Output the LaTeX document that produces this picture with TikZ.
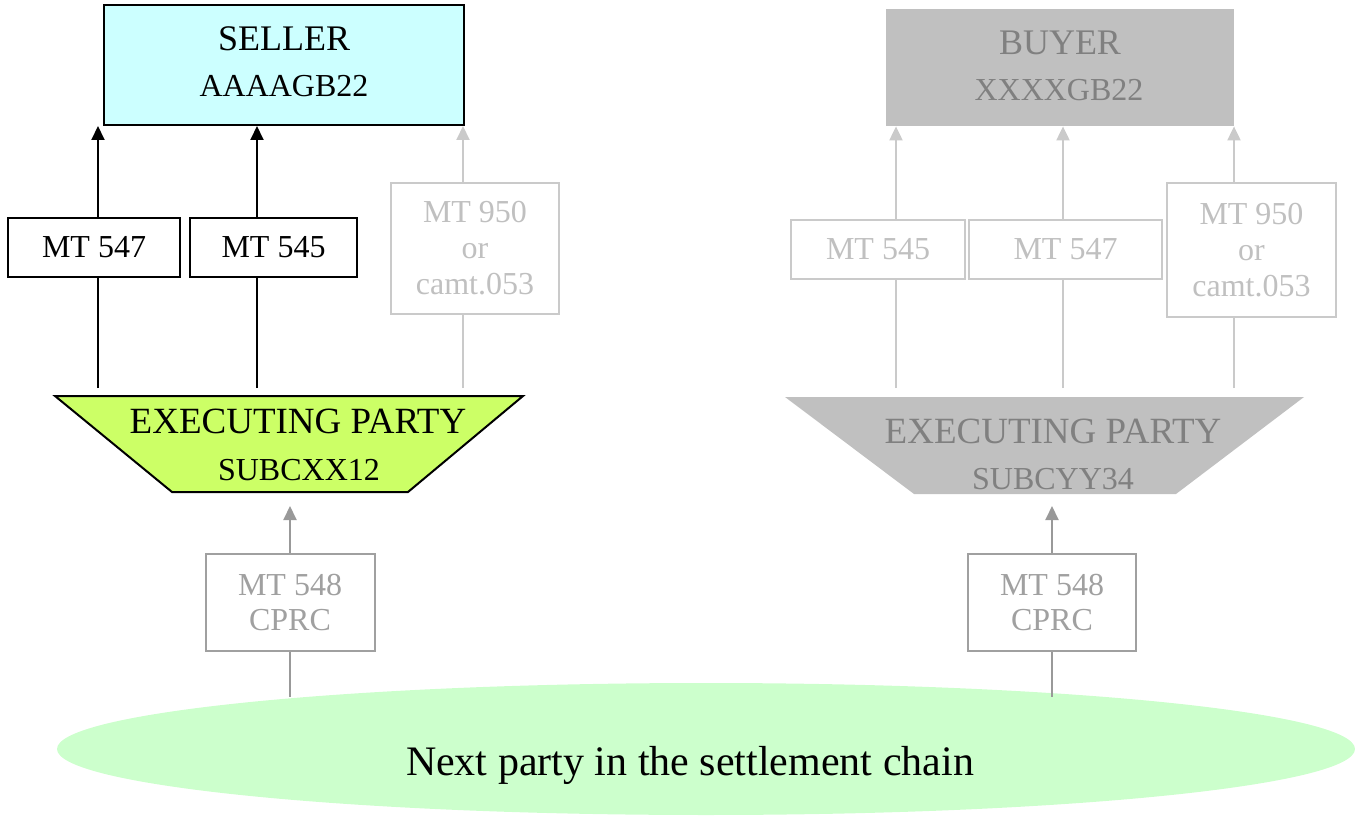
\documentclass[tikz,border=0pt]{standalone}
\usepackage{fontspec}
\setmainfont{Liberation Serif}
\usetikzlibrary{arrows.meta,shapes.geometric}
\definecolor{sellerfill}{HTML}{CCFFFF}
\definecolor{execfill}{HTML}{CCFF66}
\definecolor{chainfill}{HTML}{CCFFCC}
\definecolor{inactfill}{HTML}{C0C0C0}
\definecolor{inacttext}{HTML}{808080}
\definecolor{faintgrey}{HTML}{CACACA}
\definecolor{fainttext}{HTML}{C0C0C0}
\definecolor{midgrey}{HTML}{A0A0A0}
\definecolor{arrowgrey}{HTML}{999999}
\tikzset{
  msgbox/.style={draw, line width=1pt, fill=white, inner sep=0pt, align=center,
                 font=\fontsize{16}{18}\selectfont},
  activebox/.style={msgbox, draw=black, text=black},
  faintbox/.style={msgbox, draw=faintgrey, text=fainttext},
  midbox/.style={msgbox, draw=midgrey, text=midgrey, font=\fontsize{16}{17.5}\selectfont},
  tip/.style={-{Triangle[length=7pt,width=6.5pt]}},
  blackline/.style={line width=1pt, draw=black},
  faintline/.style={line width=1pt, draw=faintgrey},
  midline/.style={line width=1pt, draw=arrowgrey},
  bigtext/.style={anchor=base, font=\fontsize{18.5}{20}\selectfont},
  codetext/.style={anchor=base, font=\fontsize{16}{18}\selectfont}
}
\begin{document}
\begin{tikzpicture}[x=0.5pt, y=-0.5pt]
\useasboundingbox (0,0) rectangle (1355,818);

% settlement chain
\node[ellipse, fill=chainfill, minimum width=649pt, minimum height=66pt, inner sep=0pt]
  (chain) at (706,749) {};
\node[anchor=base, font=\fontsize{21}{24}\selectfont] (chaintext) at (690,775)
  {Next party in the settlement chain};

% ---------- seller side ----------
\node[draw=black, line width=1pt, fill=sellerfill, minimum width=180pt, minimum height=60pt,
      inner sep=0pt] (seller) at (284,65) {};
\node[bigtext, font=\fontsize{18}{20}\selectfont] (sellername) at (284,51) {SELLER};
\node[codetext] (sellerbic) at (284,97) {AAAAGB22};

% executing party (inverted trapezium)
\filldraw[draw=black, line width=1pt, fill=execfill]
  (55,396) -- (523,396) -- (408,492) -- (172,492) -- cycle;
\coordinate (execAbottom) at (290,492);
\node[bigtext] (execAname) at (298,433) {EXECUTING PARTY};
\node[codetext] (execAbic) at (299,480) {SUBCXX12};

\node[activebox, minimum width=86pt, minimum height=29.5pt] (a547) at (94,247.5) {MT 547};
\node[activebox, minimum width=83.5pt, minimum height=29.5pt] (a545) at (273.5,247.5) {MT 545};
\node[faintbox, minimum width=84pt, minimum height=65.5pt] (a950) at (475,248.5)
  {MT 950\\or\\camt.053};
\node[midbox, minimum width=84.5pt, minimum height=48.5pt] (a548) at (290,602.5)
  {MT 548\\CPRC};

\coordinate (fa1) at (98,388);
\coordinate (fa2) at (257,388);
\coordinate (fa3) at (463,388);
\draw[blackline] (fa1) -- (fa1 |- a547.south);
\draw[blackline, tip] (fa1 |- a547.north) -- (fa1 |- seller.south);
\draw[blackline] (fa2) -- (fa2 |- a545.south);
\draw[blackline, tip] (fa2 |- a545.north) -- (fa2 |- seller.south);
\draw[faintline] (fa3) -- (fa3 |- a950.south);
\draw[faintline, tip] (fa3 |- a950.north) -- (fa3 |- seller.south);

\coordinate (ca) at (290,697);
\draw[midline] (a548.south) -- (ca);
\draw[midline, tip, shorten >=7pt] (a548.north) -- (execAbottom);

% ---------- buyer side ----------
\node[fill=inactfill, minimum width=174pt, minimum height=58.5pt, inner sep=0pt]
  (buyer) at (1060,67.5) {};
\node[bigtext, font=\fontsize{18}{20}\selectfont, text=inacttext] (buyername) at (1060,55) {BUYER};
\node[codetext, text=inacttext] (buyerbic) at (1059,101) {XXXXGB22};

\fill[inactfill] (785,397) -- (1304,397) -- (1176,494) -- (914,494) -- cycle;
\coordinate (execBbottom) at (1052,494);
\node[bigtext, text=inacttext] (execBname) at (1053,443) {EXECUTING PARTY};
\node[codetext, text=inacttext] (execBbic) at (1053,489) {SUBCYY34};

\node[faintbox, minimum width=87pt, minimum height=29.5pt] (b545) at (878,249.5) {MT 545};
\node[faintbox, minimum width=96.5pt, minimum height=29.5pt] (b547) at (1065.5,249.5) {MT 547};
\node[faintbox, minimum width=84.5pt, minimum height=67pt] (b950) at (1251.5,250)
  {MT 950\\or\\camt.053};
\node[midbox, minimum width=84pt, minimum height=48.5pt] (b548) at (1052,602.5)
  {MT 548\\CPRC};

\coordinate (fb1) at (896,388);
\coordinate (fb2) at (1063,388);
\coordinate (fb3) at (1234,388);
\draw[faintline] (fb1) -- (fb1 |- b545.south);
\draw[faintline, tip] (fb1 |- b545.north) -- (fb1 |- buyer.south);
\draw[faintline] (fb2) -- (fb2 |- b547.south);
\draw[faintline, tip] (fb2 |- b547.north) -- (fb2 |- buyer.south);
\draw[faintline] (fb3) -- (fb3 |- b950.south);
\draw[faintline, tip] (fb3 |- b950.north) -- (fb3 |- buyer.south);

\coordinate (cb) at (1052,697);
\draw[midline] (b548.south) -- (cb);
\draw[midline, tip, shorten >=6pt] (b548.north) -- (execBbottom);
\end{tikzpicture}
\end{document}
